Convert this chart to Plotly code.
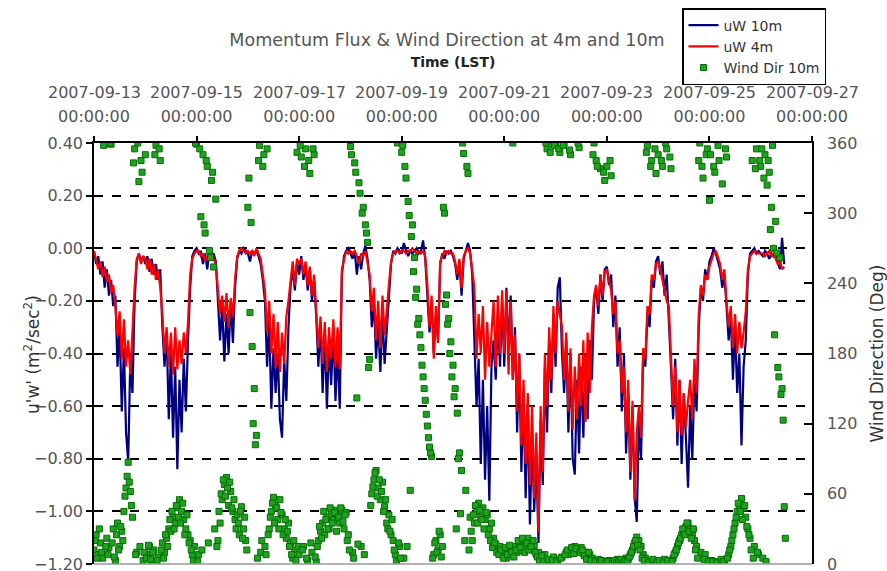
import pandas as pd
import plotly.graph_objects as go

# hourly flux values starting 2007-09-13 00:00 (LST), one row per day
uw10 = [
    -0.01, -0.06, -0.03, -0.10, -0.05, -0.15, -0.08, -0.18, -0.12, -0.22, -0.18, -0.45, -0.30, -0.62, -0.38, -0.70, -0.81, -0.42, -0.55, -0.20, -0.05, -0.02, -0.05, -0.03,
    -0.06, -0.03, -0.09, -0.04, -0.10, -0.06, -0.12, -0.08, -0.30, -0.45, -0.32, -0.65, -0.40, -0.72, -0.45, -0.84, -0.50, -0.70, -0.42, -0.62, -0.35, -0.15, -0.03, -0.01,
    0.00, -0.02, -0.01, -0.06, -0.02, -0.08, -0.01, -0.03, -0.02, -0.05, -0.20, -0.35, -0.22, -0.43, -0.25, -0.40, -0.20, -0.36, -0.15, -0.04, -0.01, -0.02, 0.00, -0.01,
    -0.02, -0.05, -0.01, -0.02, -0.01, -0.03, -0.06, -0.12, -0.20, -0.45, -0.28, -0.61, -0.38, -0.55, -0.40, -0.65, -0.72, -0.42, -0.58, -0.30, -0.14, -0.08, -0.16, -0.05,
    -0.10, -0.03, -0.12, -0.06, -0.16, -0.08, -0.20, -0.12, -0.26, -0.45, -0.28, -0.55, -0.32, -0.61, -0.35, -0.52, -0.30, -0.58, -0.38, -0.61, -0.10, -0.03, -0.01, 0.00,
    -0.02, -0.04, -0.01, -0.10, -0.03, -0.08, -0.02, 0.01, -0.04, -0.12, -0.30, -0.20, -0.42, -0.28, -0.47, -0.25, -0.44, -0.30, -0.20, -0.06, -0.01, -0.02, 0.00, -0.01,
    -0.02, 0.02, -0.01, -0.03, -0.01, -0.02, -0.01, 0.00, -0.02, -0.01, 0.03, -0.04, -0.18, -0.32, -0.20, -0.40, -0.25, -0.35, -0.06, -0.02, -0.04, -0.01, -0.02, -0.01,
    -0.03, -0.06, -0.12, -0.05, -0.18, -0.04, -0.01, 0.02, -0.01, -0.10, -0.35, -0.60, -0.42, -0.82, -0.50, -0.88, -0.60, -0.96, -0.45, -0.35, -0.50, -0.25, -0.45, -0.20,
    -0.45, -0.15, -0.40, -0.18, -0.50, -0.30, -0.70, -0.40, -0.85, -0.55, -0.95, -0.60, -1.05, -0.70, -1.00, -0.80, -1.12, -0.65, -0.90, -0.45, -0.70, -0.35, -0.55, -0.25,
    -0.45, -0.15, -0.11, -0.40, -0.55, -0.35, -0.70, -0.40, -0.80, -0.86, -0.50, -0.78, -0.45, -0.72, -0.40, -0.65, -0.35, -0.50, -0.20, -0.15, -0.25, -0.10, -0.20, -0.08,
    -0.07, -0.14, -0.10, -0.30, -0.18, -0.45, -0.30, -0.62, -0.40, -0.78, -0.55, -0.88, -0.60, -0.95, -1.04, -0.65, -0.80, -0.40, -0.45, -0.25, -0.30, -0.12, -0.15, -0.05,
    -0.03, -0.10, -0.05, -0.18, -0.10, -0.25, -0.45, -0.65, -0.42, -0.75, -0.50, -0.82, -0.55, -0.72, -0.91, -0.60, -0.80, -0.48, -0.62, -0.30, -0.15, -0.20, -0.08, -0.12,
    -0.05, -0.03, 0.00, -0.02, -0.05, -0.08, -0.15, -0.10, -0.22, -0.35, -0.25, -0.50, -0.30, -0.55, -0.40, -0.75, -0.45, -0.35, -0.10, -0.02, -0.01, 0.00, -0.02, -0.01,
    -0.02, -0.03, -0.01, -0.02, -0.04, -0.02, -0.03, -0.01, -0.05, -0.08, 0.04, -0.06,
]

uw4 = [
    -0.01, -0.04, -0.08, -0.05, -0.11, -0.07, -0.13, -0.10, -0.17, -0.14, -0.22, -0.33, -0.24, -0.42, -0.27, -0.45, -0.35, -0.48, -0.30, -0.15, -0.04, -0.02, -0.06, -0.03,
    -0.04, -0.08, -0.04, -0.10, -0.06, -0.12, -0.08, -0.15, -0.25, -0.40, -0.30, -0.45, -0.32, -0.48, -0.30, -0.46, -0.35, -0.44, -0.32, -0.40, -0.28, -0.10, -0.04, -0.02,
    -0.01, -0.01, -0.03, -0.02, -0.05, -0.03, -0.02, -0.01, -0.04, -0.06, -0.16, -0.25, -0.18, -0.28, -0.17, -0.30, -0.19, -0.26, -0.12, -0.03, -0.01, 0.00, -0.01, -0.02,
    -0.01, -0.02, -0.01, -0.03, 0.00, -0.02, -0.04, -0.10, -0.16, -0.32, -0.20, -0.40, -0.25, -0.45, -0.28, -0.47, -0.32, -0.44, -0.26, -0.20, -0.12, -0.05, -0.14, -0.04,
    -0.06, -0.04, -0.10, -0.05, -0.14, -0.07, -0.18, -0.10, -0.24, -0.38, -0.26, -0.44, -0.28, -0.47, -0.30, -0.42, -0.27, -0.45, -0.30, -0.46, -0.08, -0.04, -0.01, -0.02,
    -0.01, -0.02, -0.01, -0.03, -0.06, -0.02, -0.03, -0.01, -0.05, -0.10, -0.24, -0.15, -0.35, -0.20, -0.38, -0.18, -0.33, -0.22, -0.14, -0.05, -0.02, -0.01, -0.01, -0.02,
    -0.01, -0.01, -0.02, -0.01, -0.01, 0.00, -0.01, -0.02, -0.01, -0.02, -0.01, -0.03, -0.14, -0.30, -0.18, -0.42, -0.22, -0.36, -0.05, -0.03, -0.01, -0.02, -0.01, -0.02,
    -0.02, -0.05, -0.10, -0.04, -0.15, -0.03, -0.01, 0.00, -0.02, -0.08, -0.15, -0.42, -0.25, -0.40, -0.22, -0.50, -0.28, -0.45, -0.30, -0.20, -0.45, -0.18, -0.40, -0.16,
    -0.40, -0.16, -0.48, -0.20, -0.50, -0.33, -0.62, -0.40, -0.75, -0.50, -0.82, -0.55, -0.90, -0.60, -0.95, -0.70, -1.08, -0.60, -0.85, -0.40, -0.60, -0.30, -0.50, -0.22,
    -0.40, -0.20, -0.25, -0.30, -0.50, -0.32, -0.62, -0.38, -0.69, -0.45, -0.65, -0.40, -0.60, -0.35, -0.66, -0.32, -0.55, -0.30, -0.18, -0.14, -0.22, -0.10, -0.18, -0.09,
    -0.08, -0.12, -0.16, -0.25, -0.20, -0.40, -0.35, -0.55, -0.45, -0.70, -0.50, -0.85, -0.58, -0.96, -0.70, -0.60, -0.72, -0.38, -0.42, -0.22, -0.25, -0.10, -0.12, -0.06,
    -0.05, -0.08, -0.12, -0.15, -0.20, -0.22, -0.40, -0.60, -0.45, -0.70, -0.50, -0.71, -0.55, -0.68, -0.58, -0.50, -0.65, -0.42, -0.55, -0.25, -0.14, -0.18, -0.10, -0.12,
    -0.07, -0.04, -0.02, -0.01, -0.04, -0.06, -0.12, -0.08, -0.20, -0.30, -0.22, -0.38, -0.25, -0.40, -0.28, -0.38, -0.32, -0.24, -0.08, -0.03, -0.02, -0.01, -0.02, -0.02,
    -0.02, -0.02, -0.03, -0.02, -0.01, -0.03, -0.02, -0.04, -0.06, -0.05, -0.08, -0.07,
]

# wind direction at 10 m: on the hour ...
wind_dir10 = [
    12, 25, 8, 18, 5, 359, 22, 14, 359, 30, 3, 35, 15, 28, 45, 65, 87, 62, 40, 355, 10, 327, 345, 3,
    350, 8, 15, 2, 12, 358, 6, 345, 18, 10, 22, 30, 28, 40, 35, 48, 55, 45, 38, 30, 25, 20, 8, 15,
    359, 8, 297, 350, 283, 340, 268, 328, 254, 312, 20, 35, 55, 68, 74, 50, 62, 45, 38, 42, 25, 49, 30, 20,
    305, 215, 186, 150, 110, 345, 10, 340, 15, 355, 30, 45, 57, 50, 38, 55, 42, 30, 22, 35, 18, 5, 12, 352,
    8, 348, 15, 355, 3, 334, 10, 350, 2, 20, 28, 35, 25, 40, 30, 45, 38, 46, 42, 35, 46, 30, 44, 25,
    357, 10, 343, 142, 326, 15, 305, 290, 275, 175, 60, 72, 80, 65, 55, 70, 49, 35, 42, 25, 20, 8, 360, 15,
    352, 5, 330, 310, 63, 290, 262, 235, 210, 185, 160, 140, 118, 100, 92, 8, 20, 12, 25, 15, 300, 230, 210, 190,
    170, 150, 129, 95, 80, 351, 63, 334, 40, 20, 35, 45, 52, 40, 48, 38, 42, 30, 35, 22, 17, 12, 15, 8,
    10, 5, 12, 8, 360, 15, 10, 18, 12, 20, 15, 22, 18, 12, 16, 8, 10, 5, 4, 8, 355, 2, 359, 6,
    358, 3, 352, 6, 360, 10, 8, 350, 12, 15, 11, 356, 14, 9, 10, 6, 8, 5, 360, 345, 4, 338, 2, 328,
    340, 3, 332, 1, 2, 4, 1, 3, 2, 5, 4, 8, 12, 18, 23, 20, 15, 8, 5, 358, 2, 345, 1, 334,
    350, 2, 340, 4, 355, 1, 338, 5, 10, 15, 20, 25, 28, 32, 35, 30, 25, 20, 15, 345, 10, 330, 8, 355,
    311, 3, 340, 2, 358, 1, 325, 3, 348, 8, 15, 25, 35, 45, 50, 56, 48, 40, 30, 22, 345, 15, 355, 8,
    340, 5, 350, 324, 335, 305, 270, 293, 168, 262, 150, 49,
]

# ... and on the half hour
wind_dir10_half = [
    20, 5, 30, 10, 358, 15, 8, 360, 18, 6, 25, 12, 32, 20, 58, 75, 70, 50, 343, 8, 360, 15, 335, 10,
    5, 16, 4, 10, 350, 3, 355, 12, 5, 25, 15, 38, 45, 30, 50, 40, 35, 52, 25, 42, 18, 12, 3, 360,
    2, 355, 12, 290, 345, 18, 262, 335, 30, 15, 45, 60, 72, 58, 65, 70, 48, 55, 30, 35, 45, 22, 40, 12,
    330, 292, 120, 102, 5, 358, 20, 350, 8, 25, 40, 52, 35, 48, 30, 44, 25, 38, 28, 15, 8, 20, 3, 15,
    358, 12, 340, 5, 345, 18, 355, 6, 15, 32, 22, 45, 38, 30, 48, 35, 44, 28, 40, 48, 36, 42, 20, 12,
    350, 5, 335, 17, 317, 300, 8, 283, 168, 50, 66, 78, 58, 72, 62, 45, 55, 30, 28, 38, 12, 2, 18, 5,
    358, 340, 15, 298, 280, 250, 228, 205, 196, 170, 150, 128, 108, 95, 5, 18, 10, 28, 6, 305, 222, 205, 180, 160,
    143, 30, 90, 43, 360, 20, 340, 12, 28, 42, 50, 35, 46, 38, 30, 44, 25, 20, 14, 18, 10, 8, 12, 5,
    14, 8, 16, 10, 6, 12, 20, 14, 22, 10, 18, 12, 15, 20, 10, 6, 3, 7, 2, 360, 4, 352, 3, 358,
    2, 355, 5, 358, 8, 12, 354, 14, 9, 13, 360, 10, 12, 7, 4, 10, 3, 350, 2, 340, 1, 3, 335, 2,
    2, 345, 0, 3, 1, 2, 4, 1, 3, 2, 6, 10, 15, 20, 16, 12, 5, 3, 352, 1, 340, 4, 355, 2,
    3, 345, 1, 360, 3, 348, 2, 8, 12, 18, 22, 30, 25, 35, 28, 22, 30, 12, 5, 360, 340, 4, 350, 2,
    350, 2, 335, 1, 345, 4, 2, 355, 5, 12, 20, 30, 40, 52, 45, 38, 50, 32, 25, 12, 5, 338, 10, 345,
    355, 330, 2, 345, 286, 358, 196, 266, 160, 145, 123, 22,
]

tick_dates = ["2007-09-13", "2007-09-15", "2007-09-17", "2007-09-19",
              "2007-09-21", "2007-09-23", "2007-09-25", "2007-09-27"]
tick_time = "00:00:00"

times = pd.date_range("2007-09-13 00:00", periods=len(uw10), freq="h")
times_wd = list(pd.date_range("2007-09-13 00:00", periods=len(wind_dir10), freq="h")) + \
    list(pd.date_range("2007-09-13 00:30", periods=len(wind_dir10_half), freq="h"))
wd_all = wind_dir10 + wind_dir10_half

FONT = "DejaVu Sans"
GRAY = "#555555"

fig = go.Figure()
fig.add_trace(go.Scatter(x=times, y=uw10, mode="lines", name="uW 10m",
                         line=dict(color="#000080", width=2.2)))
fig.add_trace(go.Scatter(x=times, y=uw4, mode="lines", name="uW 4m",
                         line=dict(color="#FF0000", width=2.2)))
fig.add_trace(go.Scatter(x=times_wd, y=wd_all, mode="markers", name="Wind Dir 10m",
                         yaxis="y2",
                         marker=dict(symbol="square", size=6, color="#22a022",
                                     line=dict(color="#007000", width=1))))

for d in tick_dates:
    fig.add_annotation(x=d, y=(564 - 92) / 421, xref="x", yref="paper", text=d,
                       showarrow=False, font=dict(family=FONT, size=16, color=GRAY),
                       xanchor="center", yanchor="middle")

# left axis title
fig.add_annotation(x=(32 - 94) / 718, y=(564 - 355) / 421, xref="paper", yref="paper",
                   text="u'w' (m<sup>2</sup>/sec<sup>2</sup>)", textangle=-90,
                   showarrow=False, xanchor="center", yanchor="middle",
                   font=dict(family=FONT, size=17, color="#333333"))

fig.update_layout(
    width=887, height=571,
    margin=dict(l=94, r=75, t=143, b=7, autoexpand=False),
    paper_bgcolor="white", plot_bgcolor="white",
    font=dict(family=FONT, size=16, color=GRAY),
    title=dict(text="Momentum Flux & Wind Direction at 4m and 10m",
               x=447 / 887, xanchor="center", y=1 - 40 / 571, yanchor="middle",
               font=dict(family=FONT, size=17.5, color="#555555")),
    xaxis=dict(type="date", side="top",
               range=["2007-09-13 00:00", "2007-09-27 00:00"],
               tickvals=tick_dates, ticktext=[tick_time] * len(tick_dates),
               ticks="outside", ticklen=5, tickwidth=1.5, tickcolor="black",
               ticklabelstandoff=8, ticklabeloverflow="allow",
               showline=True, linecolor="black", linewidth=1.5,
               showgrid=False, zeroline=False,
               tickfont=dict(family=FONT, size=16, color=GRAY),
               title=dict(text="<b>Time (LST)</b>", standoff=36,
                          font=dict(family=FONT, size=14, color="#222222"))),
    yaxis=dict(range=[-1.2, 0.4], dtick=0.2, tickformat=".2f",
               ticks="outside", ticklen=6, tickwidth=1.5, tickcolor="black",
               ticklabeloverflow="allow",
               showline=True, linecolor="black", linewidth=1.5,
               showgrid=True, gridcolor="black", griddash="dash", gridwidth=1.5,
               zeroline=False,
               tickfont=dict(family=FONT, size=16, color=GRAY)),
    yaxis2=dict(range=[0, 360], dtick=60, overlaying="y", side="right",
                ticks="inside", ticklen=8, tickwidth=1.5, tickcolor="black",
                ticklabelstandoff=10, ticklabeloverflow="allow",
                showline=True, linecolor="black", linewidth=1.5,
                showgrid=False, zeroline=False,
                tickfont=dict(family=FONT, size=16, color=GRAY),
                title=dict(text="Wind Direction (Deg)", standoff=18,
                           font=dict(family=FONT, size=17, color="#333333"))),
    legend=dict(x=(682 - 94) / 718, y=(564 - 8) / 421, xanchor="left", yanchor="top",
                bgcolor="white", bordercolor="black", borderwidth=1.5,
                font=dict(family=FONT, size=14, color="#333333"),
                itemwidth=30, tracegroupgap=0),
    showlegend=True,
)
fig.add_shape(type="line", xref="paper", yref="paper", x0=0, x1=1, y0=0, y1=0,
              line=dict(color="#999999", width=1.5))

fig.write_html("out.html", config={"displayModeBar": False},
               post_script="document.body.style.margin='0px';document.body.style.overflow='hidden';")
